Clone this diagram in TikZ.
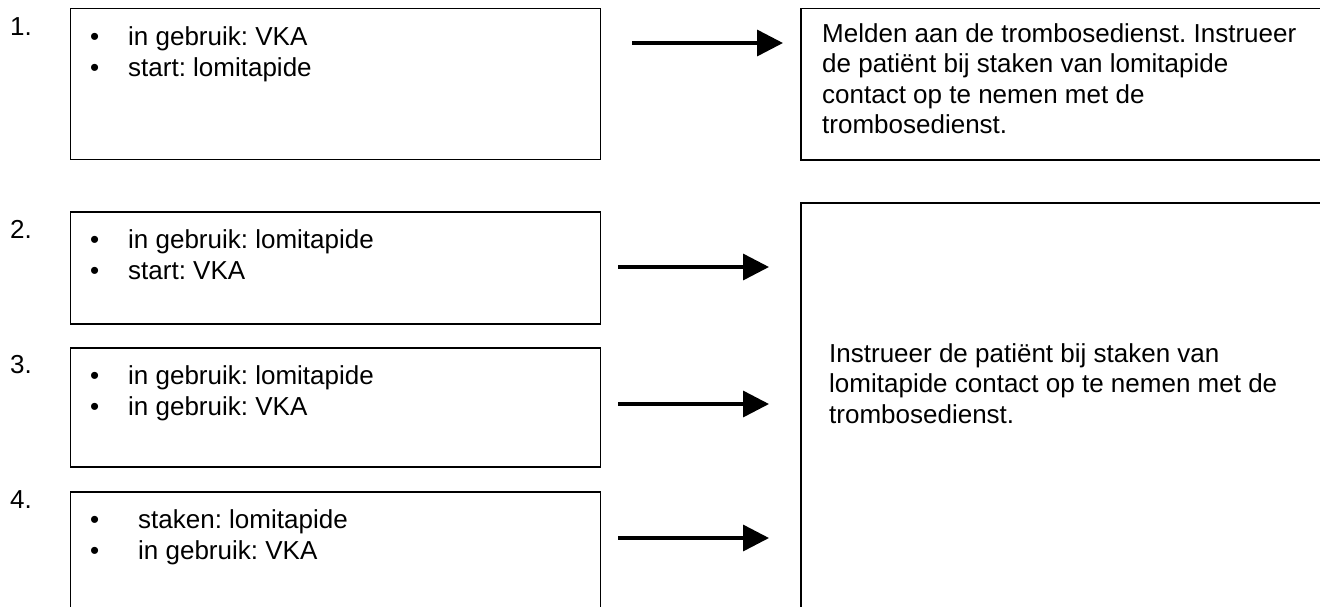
\documentclass[tikz,border=0pt]{standalone}
\usepackage{fontspec}
\setmainfont{Liberation Sans}
\usetikzlibrary{arrows.meta}
\begin{document}
\frenchspacing
\begin{tikzpicture}[x=1pt,y=-1pt,
  box/.style={draw, line width=1.6pt, inner sep=0pt, anchor=north west},
  txt/.style={anchor=base west, inner sep=0pt, font=\fontsize{26}{31}\selectfont},
  blt/.style={anchor=base west, inner sep=0pt, font=\fontsize{26}{31}\selectfont},
  arr/.style={line width=3.5pt, -{Triangle[length=26pt,width=26pt]}}]
\useasboundingbox (0,0) rectangle (1320,606);
\clip (0,0) rectangle (1320,606);
% left boxes
\node[box, minimum width=530pt, minimum height=151pt] (b1) at (69.5,7.5) {};
\node[box, minimum width=530pt, minimum height=112pt] (b2) at (69.5,211) {};
\node[box, minimum width=530pt, minimum height=119pt] (b3) at (69.5,347) {};
\node[box, minimum width=530pt, minimum height=150pt] (b4) at (69.5,491) {};
% right boxes
\node[box, minimum width=560pt, minimum height=151.5pt] (r1) at (800,7.5) {};
\node[box, minimum width=560pt, minimum height=440pt] (r2) at (800,202) {};
% numbers
\node[txt] (n1) at (10,35) {1.};
\node[txt] (n2) at (10,238) {2.};
\node[txt] (n3) at (10,373) {3.};
\node[txt] (n4) at (10,508) {4.};
% box 1 text
\node[blt] (b1p1) at (90,45) {•};
\node[txt] (b1t1) at (128,45) {in gebruik: VKA};
\node[blt] (b1p2) at (90,76) {•};
\node[txt] (b1t2) at (128,76) {start: lomitapide};
% box 2 text
\node[blt] (b2p1) at (90,248) {•};
\node[txt] (b2t1) at (128,248) {in gebruik: lomitapide};
\node[blt] (b2p2) at (90,279) {•};
\node[txt] (b2t2) at (128,279) {start: VKA};
% box 3 text
\node[blt] (b3p1) at (90,384) {•};
\node[txt] (b3t1) at (128,384) {in gebruik: lomitapide};
\node[blt] (b3p2) at (90,415) {•};
\node[txt] (b3t2) at (128,415) {in gebruik: VKA};
% box 4 text
\node[blt] (b4p1) at (90,528) {•};
\node[txt] (b4t1) at (138,528) {staken: lomitapide};
\node[blt] (b4p2) at (90,559) {•};
\node[txt] (b4t2) at (138,559) {in gebruik: VKA};
% right box texts
\node[txt] (r1t1) at (822,42) {Melden aan de trombosedienst. Instrueer};
\node[txt] (r1t2) at (822,72.5) {de patiënt bij staken van lomitapide};
\node[txt] (r1t3) at (822,103) {contact op te nemen met de};
\node[txt] (r1t4) at (822,133.5) {trombosedienst.};
\node[txt] (r2t1) at (829,362) {Instrueer de patiënt bij staken van};
\node[txt] (r2t2) at (829,392.5) {lomitapide contact op te nemen met de};
\node[txt] (r2t3) at (829,423) {trombosedienst.};
% arrows
\coordinate (a1s) at (632,43);
\coordinate (a1e) at (783,43);
\coordinate (a2s) at (618,267);
\coordinate (a2e) at (769,267);
\coordinate (a3s) at (618,404);
\coordinate (a3e) at (769,404);
\coordinate (a4s) at (618,538);
\coordinate (a4e) at (769,538);
\draw[arr] (a1s) -- (a1e);
\draw[arr] (a2s) -- (a2e);
\draw[arr] (a3s) -- (a3e);
\draw[arr] (a4s) -- (a4e);
\end{tikzpicture}
\end{document}
